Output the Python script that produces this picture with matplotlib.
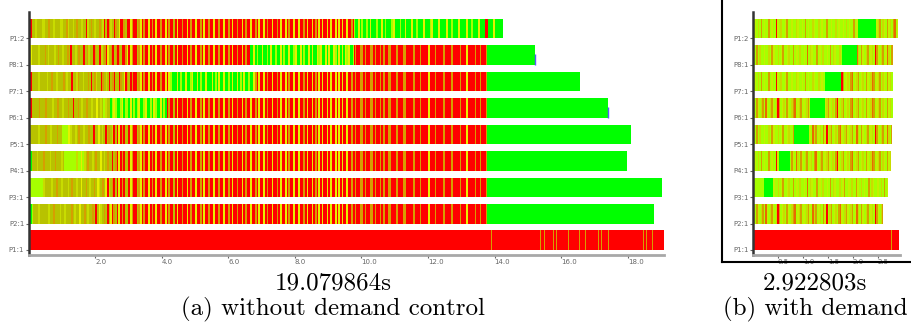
import matplotlib.pyplot as plt
from matplotlib.lines import Line2D

# rows from bottom to top
rows = ['P1:1', 'P2:1', 'P3:1', 'P4:1', 'P5:1', 'P6:1', 'P7:1', 'P8:1', 'P1:2']

COLORS = {
    'R': '#ff0000', 'G': '#00ff00', 'Y': '#e6ef00', 'L': '#a6ff00',
    'O': '#b8c200', 'B': '#c8dc00', 'A': '#d69e00', 'N': '#e86a00',
    'M': '#c4f000',
}

# stripe textures: (t0, t1, codes)
RED_TEX = ("ARYRAROORYARROAYRARR" "YRARYRRARRYRARRORYRR" "ARRYRARRYRRARYRRARRY"
           "RRARRYRRARYRRARRYRAR" "RYRRARYRRYRARRYRRARY" "RRYRARRYRRYRRARYRRYR"
           "ARYRYRRYRYRRYRYRYRRY" "RRARARRAARARRAARARRA" "RARRAARRRARRRAARRRRA"
           "RRRARRRRYRRRARRRRARR" "RRARRRRARRRYRRRRARRA" "RRRA")
GREEN_TEX = ("LGLYLGGLYGLLGYGLGLYG" "GLYGGLGYLGGYGLGGYLGG" "GYGLGGYGGLYGGYGLGGYG"
             "GGYGLGYGGYGGLGYGGYGL" "GYGGLGGYGLGGYGGLGYGG" "LGGYGLGGYGGLYGGYGLGG"
             "YGYGGYLYGGYGYGGYLGYG" "YGYLYGGLGGYGLGGLGYGG" "GLGGYGLGGGLYGGGLGGYG"
             "GGYGGLGGGYGGGLYGGGYG" "GGGYGGLGGGYGGGGYGGLG" "GGYGGGLGGGGYGGGGGYGG")
OLIVE_P12 = "GROOBOOOBBOOAOOBOOOBBOOABOOBOAOOBOORBOAOBOOAOBRORABORAOYRRAOR"
OLIVE_P81 = "RYOOOOBOOOAOBOOOBOAOOBOOAOROOBOAOOROABOORAOORBOARYOAROARAORRAY"
OLIVE_P71 = "RROOOOBOOOOBOOAOOBOOOAOBOOROOBAOOBOOAOROABOORAOBOROAROORAOYRAORAR"
OLIVE_P61 = "RROOOOAOOOAOOOBOOAOOBOOAOOROOAOBOOAOOBOOYOBOLBOO"
OLIVE_P51 = "GOOOOOBOOOAOOBOOOAOOLLLLYBOOBOAOOBOOAOOROOYOBOROAOBRO"
OLIVE_P41 = "GGOOOBOOOAOOOBOOAOOOBOLLLLLLLBLLYLBOAOOBOAOOYOBOAOOROA"
OLIVE_P31 = "RLLLLLLLLBOOOOBOOAOOBOOOBOAOOBOOYOOAOBOOAOYBOAOYRBOARO"
OLIVE_P21 = "LGLOOOBOOOOOBOOAOOOBOOBOOOAOBOOYOOAOBOOAOROYBOAOROYRAO"

LIME_A = "LMLBLALMLLALMLLRMLBLLMALLMLLBMLLMLALMLLBMLLBLMLLALLMLLBLMLLMLBLMLLALMLBLLMLBLALLMLBLMLALMLBLLMLAL"
LIME_B = "MLALBLLMLLBLAMLLBLMALLMBLLALMLBLLMLNLBMLLALMLBLLMLALBMLLBLMALLMLBLLAMLBLMLLALBMLLMLBLALMLLBLMLAM"
WARM_A = "LAMBLANLMBALMLBAMLRBLAMBLAMLNBLAMLBALMBLANMLBALMBAMLBLARMLBALMBLANLMBALMBLAMLBNALMBALBMLAMBLANLMB"
WARM_B = "BLAMLBALNMLBAMLBRALMBLAMLBANLMBALMLBAMLNBALMBLAMRLBALMBLANMLBAMLBALMNBLAMLBALMBLRAMLBALMNBLAMBLAL"

textures = {
    'red': (2.6, 13.8, RED_TEX), 'green': (2.4, 14.4, GREEN_TEX),
    'o12': (0, 3.0, OLIVE_P12), 'o81': (0, 3.0, OLIVE_P81), 'o71': (0, 3.2, OLIVE_P71),
    'o61': (0, 2.45, OLIVE_P61), 'o51': (0, 2.65, OLIVE_P51), 'o41': (0, 2.65, OLIVE_P41),
    'o31': (0, 2.65, OLIVE_P31), 'o21': (0, 2.65, OLIVE_P21),
    'lime_a': (0, 2.95, LIME_A), 'lime_b': (0, 2.95, LIME_B),
    'warm_a': (0, 2.95, WARM_A), 'warm_b': (0, 2.95, WARM_B),
}

# (a) without demand control, seconds
left_segments = {
    'P1:2': [(0, 3.0, 'o12'), (3.0, 9.77, 'red'), (9.77, 13.72, 'green'), (13.72, 13.79, 'R'), (13.79, 14.25, 'green')],
    'P8:1': [(0, 3.0, 'o81'), (3.0, 6.65, 'red'), (6.65, 9.77, 'green'), (9.77, 13.77, 'red'), (13.77, 15.2, 'G')],
    'P7:1': [(0, 3.2, 'o71'), (3.2, 4.2, 'red'), (4.2, 6.8, 'green'), (6.8, 13.77, 'red'), (13.77, 16.56, 'G')],
    'P6:1': [(0, 2.45, 'o61'), (2.45, 4.16, 'green'), (4.16, 13.77, 'red'), (13.77, 17.4, 'G')],
    'P5:1': [(0, 2.65, 'o51'), (2.65, 13.77, 'red'), (13.77, 18.1, 'G')],
    'P4:1': [(0, 2.65, 'o41'), (2.65, 13.77, 'red'), (13.77, 17.97, 'G')],
    'P3:1': [(0, 2.65, 'o31'), (2.65, 13.77, 'red'), (13.77, 19.02, 'G')],
    'P2:1': [(0, 2.65, 'o21'), (2.65, 13.77, 'red'), (13.77, 18.78, 'G')],
    'P1:1': [(0, 19.08, 'R')],
}
left_p11_stripes = [13.89, 15.36, 15.48, 15.75, 15.84, 16.2, 16.53, 16.71, 17.1, 17.19, 17.4, 18.45, 18.54, 18.72]
left_end_marks = {'P8:1': 15.2, 'P6:1': 17.4}

# (b) with demand control, seconds
right_segments = {
    'P1:2': [(0, 2.1, 'lime_a'), (2.1, 2.46, 'G'), (2.46, 2.9, 'warm_a')],
    'P8:1': [(0, 1.78, 'lime_b'), (1.78, 2.08, 'G'), (2.08, 2.8, 'warm_b')],
    'P7:1': [(0, 1.44, 'lime_a'), (1.44, 1.76, 'G'), (1.76, 1.79, 'R'), (1.79, 2.8, 'warm_a')],
    'P6:1': [(0, 1.14, 'warm_b'), (1.14, 1.44, 'G'), (1.44, 2.79, 'warm_a')],
    'P5:1': [(0, 0.82, 'lime_b'), (0.82, 1.12, 'G'), (1.12, 2.78, 'warm_b')],
    'P4:1': [(0, 0.52, 'lime_a'), (0.52, 0.74, 'G'), (0.74, 2.76, 'warm_a')],
    'P3:1': [(0, 0.22, 'L'), (0.22, 0.4, 'G'), (0.4, 2.7, 'lime_b')],
    'P2:1': [(0, 2.6, 'warm_b')],
    'P1:1': [(0, 2.92, 'R')],
}
right_p11_stripes = [2.49, 2.53, 2.59, 2.76, 2.81, 2.85]

totals = ['19.079864s', '2.922803s']
captions = ['(a) without demand control', '(b) with demand']


def runs_for(segs):
    runs = []
    for start, end, key in segs:
        if key in COLORS:
            runs.append([start, end, key])
            continue
        t0, t1, tex = textures[key]
        dt = (t1 - t0) / len(tex)
        for i, c in enumerate(tex):
            a = max(t0 + i * dt, start)
            b = min(t0 + (i + 1) * dt, end)
            if b <= a:
                continue
            if runs and runs[-1][2] == c and abs(runs[-1][1] - a) < 1e-9:
                runs[-1][1] = b
            else:
                runs.append([a, b, c])
    return runs


def draw_panel(ax, segments, stripes, sw, xmax, ticks, end_marks):
    h = 0.74
    for i, name in enumerate(rows):
        segs = list(segments[name])
        if name == 'P1:1':
            segs += [(s, s + sw, 'A') for s in stripes]
        groups = {}
        for a, b, c in runs_for(segs):
            groups.setdefault(c, []).append((a, b - a))
        for c, boxes in groups.items():
            ax.broken_barh(boxes, (i, h), facecolors=COLORS[c], linewidth=0)
        if name in end_marks:
            ax.vlines(end_marks[name], i, i + 0.4, color='#5a5aff', lw=1)
    ax.set_xlim(0, xmax)
    ax.set_ylim(-0.19, 9.0)
    ax.set_yticks(range(len(rows)))
    ax.set_yticklabels(rows)
    ax.set_xticks(ticks)
    ax.set_xticklabels(['%.1f' % t for t in ticks], ha='left')
    ax.tick_params(labelsize=5, colors='#666666', length=2, width=0.8, pad=1)
    for s in ['top', 'right']:
        ax.spines[s].set_visible(False)
    ax.spines['left'].set_color('#333333')
    ax.spines['left'].set_linewidth(1.8)
    ax.spines['bottom'].set_color('#a8a8a8')
    ax.spines['bottom'].set_linewidth(2)


fig = plt.figure(figsize=(9.11, 3.28), dpi=100)
W, H = 911.0, 328.0
ax1 = fig.add_axes([28.5 / W, 73 / H, 636 / W, 243 / H])
ax2 = fig.add_axes([753 / W, 73 / H, 147 / W, 243 / H])

draw_panel(ax1, left_segments, left_p11_stripes, 0.04, 19.1, [2, 4, 6, 8, 10, 12, 14, 16, 18], left_end_marks)
draw_panel(ax2, right_segments, right_p11_stripes, 0.012, 2.94, [0.5, 1.0, 1.5, 2.0, 2.5], {})

# frame around the second sub-figure
fig.add_artist(Line2D([722 / W, 722 / W], [1, 1 - 262 / H], color='black', lw=1.5, transform=fig.transFigure))
fig.add_artist(Line2D([722 / W, 1], [1 - 262 / H, 1 - 262 / H], color='black', lw=1.5, transform=fig.transFigure))

for xc, tot, cap in zip([333, 815], totals, captions):
    fig.text(xc / W, 1 - 283 / H, tot, ha='center', va='center', family='cmr10', size=18)
    fig.text(xc / W, 1 - 309 / H, cap, ha='center', va='center', family='cmr10', size=18)

fig.savefig('out.png', dpi=100)
